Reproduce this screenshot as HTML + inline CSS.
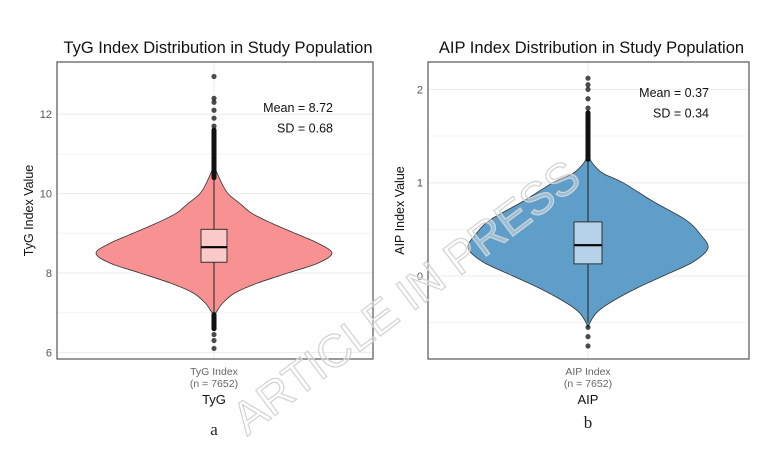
<!DOCTYPE html>
<html><head><meta charset="utf-8"><style>
html,body{margin:0;padding:0;background:#fff;}
svg{display:block;font-family:"Liberation Sans",Arial,sans-serif;}
</style></head><body>
<svg id="fig" width="757" height="449" viewBox="0 0 757 449">
</svg>
<script>
// ---- Data: panel a (TyG) ----
const tygTicks = [6, 8, 10, 12];
const tygProfileY = [6.9, 7.0, 7.25, 7.5, 7.75, 8.0, 8.25, 8.5, 8.75, 9.0, 9.25, 9.5, 9.75, 10.0, 10.3, 10.7];
const tygProfileW = [0, 2, 9, 21, 44, 74, 104, 118, 104, 81, 58, 38, 26, 14, 7, 0];
const tygBox = [7.0, 8.27, 8.65, 9.1, 10.4]; // lower whisker, q1, median, q3, upper whisker
const tygOutliers = [6.1, 6.3, 6.45, 6.6, 6.7, 6.8, 6.9, 10.5, 10.7, 10.9, 11.1, 11.3, 11.5, 11.7, 11.9, 12.1, 12.3, 12.4, 12.95];
const tygStats = ["Mean = 8.72", "SD = 0.68"];
// ---- Data: panel b (AIP) ----
const aipTicks = [0, 1, 2];
const aipProfileY = [-0.55, -0.5, -0.4, -0.3, -0.15, 0.0, 0.15, 0.3, 0.45, 0.6, 0.8, 1.0, 1.1, 1.2, 1.3];
const aipProfileW = [0, 2, 8, 20, 45, 75, 105, 120, 112, 98, 65, 35, 15, 5, 0];
const aipBox = [-0.5, 0.13, 0.33, 0.58, 1.25];
const aipOutliers = [-0.55, -0.65, -0.75, 1.3, 1.4, 1.5, 1.6, 1.7, 1.8, 1.9, 2.0, 2.05, 2.12];
const aipStats = ["Mean = 0.37", "SD = 0.34"];

const NS = "http://www.w3.org/2000/svg";
const svg = document.getElementById('fig');
function mk(tag, attrs, parent, text) {
  const e = document.createElementNS(NS, tag);
  for (const k in attrs) e.setAttribute(k, attrs[k]);
  if (text !== undefined) e.textContent = text;
  (parent || svg).appendChild(e);
  return e;
}
function smooth(pts) {
  let d = 'M' + pts[0][0] + ',' + pts[0][1];
  for (let i = 0; i < pts.length - 1; i++) {
    const p0 = pts[Math.max(0, i - 1)], p1 = pts[i], p2 = pts[i + 1], p3 = pts[Math.min(pts.length - 1, i + 2)];
    const c1x = p1[0] + (p2[0] - p0[0]) / 6, c1y = p1[1] + (p2[1] - p0[1]) / 6;
    const c2x = p2[0] - (p3[0] - p1[0]) / 6, c2y = p2[1] - (p3[1] - p1[1]) / 6;
    d += `C${c1x},${c1y} ${c2x},${c2y} ${p2[0]},${p2[1]}`;
  }
  return d;
}

function panel(cfg) {
  const g = mk('g', {});
  
  
  const y = v => cfg.y0 + (v - cfg.v0) * cfg.k;
  const x = cfg.cx;
  const minors = [];
  for (let i = 0; i < cfg.ticks.length - 1; i++) minors.push((cfg.ticks[i] + cfg.ticks[i + 1]) / 2);
  cfg.extraMinor.forEach(v => minors.push(v));
  minors.forEach(mv => {
    const l = mk('line', {x1: cfg.L, x2: cfg.R, y1: y(mv), y2: y(mv), stroke: '#f3f3f3', 'stroke-width': 1}, g);
    
    
  });
  cfg.ticks.forEach(t => {
    const l = mk('line', {x1: cfg.L, x2: cfg.R, y1: y(t), y2: y(t), stroke: '#ebebeb', 'stroke-width': 1}, g);
    
    
    const tx = mk('text', {x: cfg.L - 5, y: y(t) + 4, 'text-anchor': 'end', 'font-size': 11, fill: '#555'}, g, String(t));
    
    
  });
  const vg = mk('line', {x1: x, x2: x, y1: cfg.T, y2: cfg.B, stroke: '#ebebeb'}, g);
  
  
  // violin
  const right = cfg.py.map((v, i) => [x + cfg.pw[i], y(v)]);
  const left = cfg.py.map((v, i) => [x - cfg.pw[i], y(v)]).reverse();
  const d = smooth(right) + smooth(left).replace(/^M/, 'L') + 'Z';
  const vp = mk('path', {d: d, fill: cfg.fill, stroke: '#333', 'stroke-width': 0.8, 'stroke-linejoin': 'round'}, g);
  
  
  const w = mk('line', {x1: x, x2: x, y1: y(cfg.box[0]), y2: y(cfg.box[4]), stroke: '#222', 'stroke-width': 1}, g);
  
  
  cfg.out.forEach(v => {
    const c = mk('circle', {cx: x, cy: y(v), r: 2.6, fill: '#111', 'fill-opacity': 0.75}, g);
    
    
  });
  cfg.dense.forEach(rg => {
    const dense = mk('line', {x1: x, x2: x, y1: y(rg[0]), y2: y(rg[1]), stroke: '#111', 'stroke-width': 5, 'stroke-linecap': 'round'}, g);
    
    
  });
  const b = mk('rect', {x: x - cfg.bw, y: y(cfg.box[3]), width: cfg.bw * 2, height: y(cfg.box[1]) - y(cfg.box[3]), fill: cfg.boxFill, stroke: '#333', 'stroke-width': 1}, g);
  
  
  const m = mk('line', {x1: x - cfg.bw, x2: x + cfg.bw, y1: y(cfg.box[2]), y2: y(cfg.box[2]), stroke: '#000', 'stroke-width': 2.2}, g);
  
  
  const f = mk('rect', {x: cfg.L, y: cfg.T, width: cfg.R - cfg.L, height: cfg.B - cfg.T, fill: 'none', stroke: '#555', 'stroke-width': 1.2}, g);
  
  
  cfg.stats.forEach((s, i) => {
    const t = mk('text', {x: cfg.statX, y: cfg.statY + i * 20.5, 'text-anchor': 'end', 'font-size': 12.5, fill: '#111'}, g, s);
    
    
  });
  const ti = mk('text', {x: (cfg.L + cfg.R) / 2 + 3, y: 53, 'text-anchor': 'middle', 'font-size': 16.5, fill: '#111'}, g, cfg.title);
  
  
  const yt = mk('text', {x: 0, y: 0, transform: `translate(${cfg.L - 24},${(cfg.T + cfg.B) / 2}) rotate(-90)`, 'text-anchor': 'middle', 'font-size': 12.5, fill: '#111'}, g, cfg.ytitle);
  
  
  const x1 = mk('text', {x: x, y: 375, 'text-anchor': 'middle', 'font-size': 10.5, fill: '#666'}, g, cfg.xlab);
  
  
  const x2 = mk('text', {x: x, y: 387, 'text-anchor': 'middle', 'font-size': 10.5, fill: '#666'}, g, '(n = 7652)');
  
  
  const xt = mk('text', {x: x, y: 404, 'text-anchor': 'middle', 'font-size': 13, fill: '#111'}, g, cfg.xtitle);
  
  
  const pl = mk('text', {x: x, y: cfg.letterY, 'text-anchor': 'middle', 'font-size': 17, fill: '#222', 'font-family': '"Liberation Serif",serif'}, g, cfg.letter);
  
  
}

panel({name: 'tyg-panel', L: 57, R: 373, T: 62, B: 359, cx: 214, v0: 8, y0: 273, k: -39.7,
  ticks: tygTicks, extraMinor: [], py: tygProfileY, pw: tygProfileW, box: tygBox, out: tygOutliers,
  dense: [[10.4, 11.6], [6.6, 6.95]], bw: 13, fill: '#f89191', boxFill: '#fcc9c9',
  stats: tygStats, statX: 333, statY: 112, title: 'TyG Index Distribution in Study Population',
  ytitle: 'TyG Index Value', xlab: 'TyG Index', xtitle: 'TyG', letter: 'a', letterY: 435});
panel({name: 'aip-panel', L: 428, R: 749, T: 62, B: 359, cx: 588, v0: 0, y0: 276, k: -93.3,
  ticks: aipTicks, extraMinor: [-0.5], py: aipProfileY, pw: aipProfileW, box: aipBox, out: aipOutliers,
  dense: [[1.25, 1.75]], bw: 14, fill: '#5f9ec9', boxFill: '#b5d2e8',
  stats: aipStats, statX: 709, statY: 97, title: 'AIP Index Distribution in Study Population',
  ytitle: 'AIP Index Value', xlab: 'AIP Index', xtitle: 'AIP', letter: 'b', letterY: 428});

const wm = mk('text', {x: 0, y: 0, transform: 'translate(408,300) rotate(-37)', 'text-anchor': 'middle', 'font-size': 46, fill: 'rgba(255,255,255,0.35)', stroke: '#d2d2d2', 'stroke-width': 1.2, 'font-family': '"Liberation Sans",sans-serif', 'dominant-baseline': 'middle'}, svg, 'ARTICLE IN PRESS');


</script>
</body></html>
